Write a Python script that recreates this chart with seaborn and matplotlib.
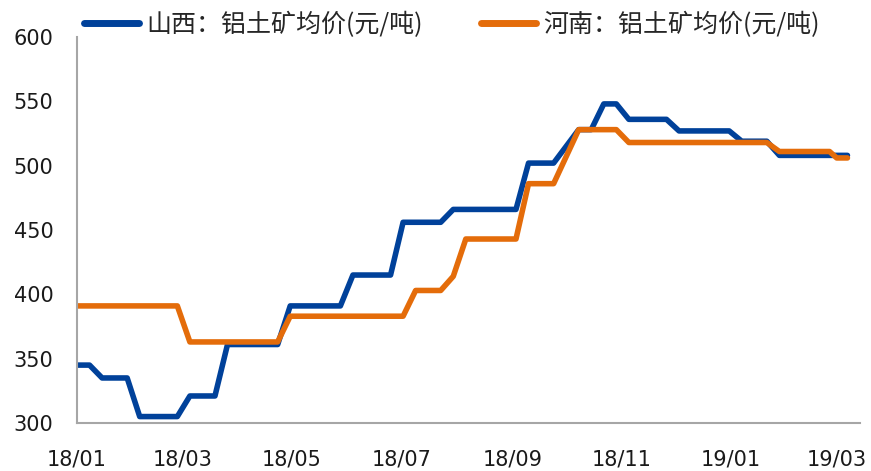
import matplotlib
matplotlib.use("Agg")
import matplotlib.pyplot as plt
import matplotlib.dates as mdates
import seaborn as sns
import pandas as pd
import numpy as np

# ---- data ----
weekly_dates = list(pd.date_range("2018-01-01", periods=61, freq="7D"))
extra_dates = [pd.Timestamp("2019-03-01"), pd.Timestamp("2019-03-07")]
dates = weekly_dates + extra_dates

shanxi = [345, 345, 335, 335, 335, 305, 305, 305, 305, 321,
          321, 321, 361, 361, 361, 361, 361, 391, 391, 391,
          391, 391, 415, 415, 415, 415, 456, 456, 456, 456,
          466, 466, 466, 466, 466, 466, 502, 502, 502, 515,
          528, 528, 548, 548, 536, 536, 536, 536, 527, 527,
          527, 527, 527, 519, 519, 519, 508, 508, 508, 508,
          508, 508, 508]

henan = ([391] * 9 + [363] * 8 + [383] * 10 + [403] * 3 + [414] +
         [443] * 5 + [486] * 3 + [507] + [528] * 4 + [518] * 12 +
         [511] * 5 + [506] * 2)

series_names = ["山西：铝土矿均价(元/吨)", "河南：铝土矿均价(元/吨)"]
colors = ["#00419A", "#E46C0A"]

tick_dates = pd.to_datetime(["2018-01-01", "2018-03-01", "2018-05-01", "2018-07-01",
                             "2018-09-01", "2018-11-01", "2019-01-01", "2019-03-01"])
tick_labels = ["18/01", "18/03", "18/05", "18/07", "18/09", "18/11", "19/01", "19/03"]
y_ticks = [300, 350, 400, 450, 500, 550, 600]

df = pd.DataFrame({
    "date": dates * 2,
    "value": shanxi + henan,
    "series": [series_names[0]] * len(dates) + [series_names[1]] * len(dates),
})

# ---- plot ----
sns.set_theme(style="white")
plt.rcParams["font.family"] = ["Noto Sans CJK SC", "DejaVu Sans"]

fig = plt.figure(figsize=(8.71, 4.71), dpi=100)
ax = fig.add_axes([77 / 871, 1 - 423 / 471, (860 - 77) / 871, (423 - 37) / 471])

sns.lineplot(data=df, x="date", y="value", hue="series", hue_order=series_names,
             palette=colors, linewidth=4, ax=ax, legend=False)

ax.set_xlim(pd.Timestamp("2018-01-01"), pd.Timestamp("2019-03-14"))
ax.set_ylim(300, 600)
ax.set_xticks(tick_dates)
ax.set_xticklabels(tick_labels, fontsize=15, family=["DejaVu Sans"], color="#1a1a1a")
ax.set_yticks(y_ticks)
ax.set_yticklabels([str(v) for v in y_ticks], fontsize=15, family=["DejaVu Sans"], color="#1a1a1a")
ax.tick_params(axis="both", length=0)
ax.tick_params(axis="y", pad=17)
ax.tick_params(axis="x", pad=19)
ax.set_xlabel("")
ax.set_ylabel("")

for s in ["top", "right"]:
    ax.spines[s].set_visible(False)
for s in ["left", "bottom"]:
    ax.spines[s].set_color("#A6A6A6")
    ax.spines[s].set_linewidth(1.5)

handles = [plt.Line2D([0], [0], color=c, linewidth=5, solid_capstyle="round") for c in colors]
fig.legend(handles, series_names, loc="center", bbox_to_anchor=(452 / 871, 1 - 25 / 471),
           ncol=2, frameon=False, fontsize=18, handlelength=2.2, handletextpad=0.3,
           columnspacing=2.3, borderpad=0, prop={"family": ["Noto Sans CJK SC", "DejaVu Sans"], "size": 18})

fig.savefig("out.png", dpi=100)
